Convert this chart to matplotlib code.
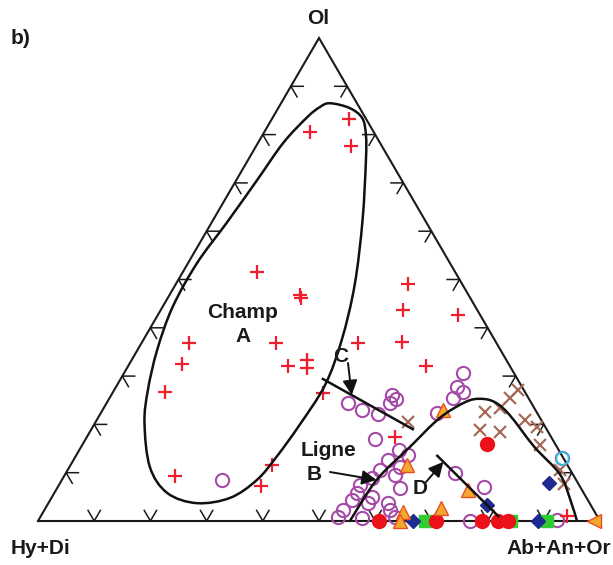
import numpy as np
import matplotlib
matplotlib.use("Agg")
import matplotlib.pyplot as plt
from matplotlib.path import Path
from matplotlib.patches import PathPatch

plt.rcParams['font.family'] = ['Liberation Sans', 'DejaVu Sans']

# Normative compositions (%): Ol and Ab+An+Or; Hy+Di is the remainder to 100
plus_ol = [80.5, 83.2, 77.6, 51.6, 46.8, 46.2, 36.9, 32.5, 26.7, 36.9, 32.1, 33.3, 31.7,
           36.9, 26.5, 9.3, 11.6, 7.2, 49.1, 43.7, 42.6, 37.1, 32.1, 17.4, 1.0]
plus_fsp = [8.1, 13.7, 16.9, 13.2, 23.2, 23.7, 8.5, 9.3, 9.2, 23.9, 28.5, 31.2, 32.1,
            38.5, 37.4, 19.7, 35.8, 36.1, 41.2, 43.1, 53.4, 46.3, 53.0, 54.8, 93.6]

circ_ol = [8.5, 30.6, 27.7, 26.7, 25.5, 22.4, 24.4, 23.0, 22.2, 26.1, 25.3, 24.4, 17.0,
           14.7, 13.7, 12.6, 11.2, 10.6, 9.5, 8.9, 6.8, 7.5, 5.8, 5.0, 4.3, 3.7, 3.7,
           2.3, 2.3, 0.8, 0.6, 0.8, 9.9, 7.0, 0.0, 0.2, 13.0]
circ_fsp = [28.5, 60.3, 60.7, 62.2, 61.1, 59.8, 43.0, 46.2, 49.4, 50.0, 51.1, 50.4, 51.5,
            56.8, 59.0, 56.0, 58.8, 55.6, 58.7, 54.9, 61.0, 53.6, 53.9, 56.9, 53.7, 56.8, 60.4,
            61.5, 53.2, 53.0, 57.4, 63.1, 69.2, 75.9, 76.9, 92.2, 86.7]

cross_ol = [27.1, 25.5, 23.4, 22.6, 20.9, 18.8, 18.4, 19.5, 15.7, 10.6, 7.7, 20.5]
cross_fsp = [71.8, 71.3, 70.5, 68.2, 76.2, 69.2, 73.0, 79.1, 81.4, 87.6, 89.8, 55.5]

dot_ol = [15.9, 0.0, 0.0, 0.0, 0.0, 0.0]
dot_fsp = [71.9, 60.7, 70.8, 79.0, 81.9, 83.6]

diam_ol = [7.9, 3.3, 0.0, 0.0]
diam_fsp = [87.0, 78.2, 66.7, 89.0]

sq_ol = [0.0, 0.0, 0.0]
sq_fsp = [68.9, 84.2, 90.6]

tri_ol = [23.0, 11.6, 6.4, 2.7, 1.9, 0.0]
tri_fsp = [60.6, 59.9, 73.3, 70.4, 64.0, 64.4]

ltri_ol = [0.0]
ltri_fsp = [98.9]

hex_ol = [13.0]
hex_fsp = [86.7]

# Field A outline and lines B, C, D
fieldA_ol = [86.5, 85.5, 83.4, 79.9, 74.7, 62.3, 48.9, 37.5, 28.2, 19.9, 13.3, 8.5, 4.8,
             3.7, 5.8, 11.2, 20.3, 27.1, 35.4, 44.3, 53.4, 61.7, 70.6, 78.3, 83.6, 85.7]
fieldA_fsp = [8.7, 12.7, 16.0, 18.4, 21.0, 26.6, 31.9, 35.3, 37.0, 36.6, 35.8, 34.7, 31.8,
              26.4, 20.1, 14.3, 8.8, 6.0, 3.5, 1.8, 1.6, 2.7, 3.7, 4.5, 6.1, 7.3]

lineB_ol = [0.0, 8.5, 15.3, 21.3, 24.6, 25.3, 24.6, 21.9, 15.3, 9.7, 4.3, 0.0]
lineB_fsp = [55.5, 56.0, 58.5, 60.8, 63.7, 66.0, 69.0, 73.0, 80.7, 88.0, 92.6, 95.9]

lineC_ol = [29.4, 19.0]
lineC_fsp = [36.0, 57.2]

lineD_ol = [13.5, 1.0]
lineD_fsp = [64.3, 81.4]

tick_fracs = [10, 20, 30, 40, 50, 60, 70, 80, 90]


def tern(ol, fsp):
    ol = np.asarray(ol, float) / 100.0
    fsp = np.asarray(fsp, float) / 100.0
    return fsp + ol / 2.0, ol


def smooth_path(x, y, closed):
    pts = np.column_stack([x, y])
    n = len(pts)
    if closed:
        ext = np.vstack([pts[-1], pts, pts[0], pts[1]])
        nseg = n
    else:
        ext = np.vstack([pts[0], pts, pts[-1]])
        nseg = n - 1
    verts = [ext[1]]
    codes = [Path.MOVETO]
    for i in range(1, nseg + 1):
        p0, p1, p2, p3 = ext[i - 1], ext[i], ext[i + 1], ext[i + 2]
        c1 = p1 + (p2 - p0) / 6.0
        c2 = p2 - (p3 - p1) / 6.0
        verts += [c1, c2, p2]
        codes += [Path.CURVE4] * 3
    return Path(verts, codes)


W, H = 613, 565
fig = plt.figure(figsize=(W / 100, H / 100), dpi=100)
ax = fig.add_axes([0, 0, 1, 1])
X0, XS, Y0, YS = 38.0, 562.0, 521.0, 483.0
ax.set_xlim(-X0 / XS, (W - X0) / XS)
ax.set_ylim((Y0 - H) / YS, Y0 / YS)
ax.axis('off')


def pix(px, py):
    return (px - X0) / XS, (Y0 - py) / YS


# triangle frame
ax.plot([0, 1, 0.5, 0], [0, 0, 1, 0], color='#1a1a1a', lw=1.5, zorder=2,
        solid_joinstyle='miter')

# tick chevrons along the three edges
t = 0.022
for f in tick_fracs:
    v = f / 100.0
    # base (Ol = 0)
    bx, by = v, 0.0
    ax.plot([bx - t / 2, bx, bx + t / 2], [by + t, by, by + t], color='#1a1a1a', lw=1.1, zorder=2)
    # left edge (Ab+An+Or = 0)
    lx, ly = v / 2, v
    ax.plot([lx + t, lx, lx + t / 2], [ly, ly, ly - t], color='#1a1a1a', lw=1.1, zorder=2)
    # right edge (Hy+Di = 0)
    rx, ry = 1 - v / 2, v
    ax.plot([rx - t, rx, rx - t / 2], [ry, ry, ry - t], color='#1a1a1a', lw=1.1, zorder=2)

# data symbols
x, y = tern(circ_ol, circ_fsp)
ax.plot(x, y, 'o', ms=9.5, mfc='none', mec='#a64aa8', mew=1.5, zorder=3, clip_on=False)
x, y = tern(plus_ol, plus_fsp)
ax.plot(x, y, '+', ms=10, mec='#f01e2c', mew=1.6, zorder=3, clip_on=False)
x, y = tern(cross_ol, cross_fsp)
ax.plot(x, y, 'x', ms=9, mec='#a86a58', mew=1.6, zorder=3, clip_on=False)
x, y = tern(sq_ol, sq_fsp)
ax.plot(x, y, 's', ms=8, mfc='#30cc30', mec='#30cc30', zorder=4, clip_on=False)
x, y = tern(dot_ol, dot_fsp)
ax.plot(x, y, 'o', ms=10, mfc='#ec1018', mec='#ec1018', zorder=4, clip_on=False)
x, y = tern(diam_ol, diam_fsp)
ax.plot(x, y, 'D', ms=7.5, mfc='#1f2a90', mec='#1f2a90', zorder=4, clip_on=False)
x, y = tern(tri_ol, tri_fsp)
ax.plot(x, y, '^', ms=9.5, mfc='#f5a830', mec='#e85020', mew=1.0, zorder=4, clip_on=False)
x, y = tern(ltri_ol, ltri_fsp)
ax.plot(x, y, '<', ms=9.5, mfc='#f5a830', mec='#e85020', mew=1.0, zorder=4, clip_on=False)
x, y = tern(hex_ol, hex_fsp)
ax.plot(x, y, 'h', ms=10, mfc='none', mec='#22c8e8', mew=1.2, zorder=4, clip_on=False)

# field A and line B
x, y = tern(fieldA_ol, fieldA_fsp)
ax.add_patch(PathPatch(smooth_path(x, y, True), fill=False, ec='#111111', lw=1.8, zorder=5))
bx_, by_ = tern(lineB_ol, lineB_fsp)
ax.add_patch(PathPatch(smooth_path(bx_, by_, False), fill=False, ec='#111111', lw=1.8, zorder=5))
cx_, cy_ = tern(lineC_ol, lineC_fsp)
ax.plot(cx_, cy_, color='#111111', lw=1.8, zorder=5)
dx_, dy_ = tern(lineD_ol, lineD_fsp)
ax.plot(dx_, dy_, color='#111111', lw=1.8, zorder=5)

# arrows pointing to the lines
arrow = dict(arrowstyle='-|>', color='#111111', lw=1.4, mutation_scale=22,
             shrinkA=0, shrinkB=0)
tipC = (cx_[0] + 0.32 * (cx_[1] - cx_[0]), cy_[0] + 0.32 * (cy_[1] - cy_[0]))
ax.annotate('', xy=tipC, xytext=pix(348, 363), arrowprops=arrow, zorder=6)
tipD = (dx_[0] + 0.1 * (dx_[1] - dx_[0]), dy_[0] + 0.1 * (dy_[1] - dy_[0]))
ax.annotate('', xy=tipD, xytext=pix(426, 482), arrowprops=arrow, zorder=6)
ax.annotate('', xy=(bx_[1], by_[1]), xytext=pix(330, 472), arrowprops=arrow, zorder=6)

fs = 15
lbl = dict(fontweight='bold', ha='center', va='center', color='#1a1a1a', zorder=7)
ax.text(*pix(21, 38), 'b)', fontsize=fs, **lbl)
ax.text(*pix(318, 18), 'Ol', fontsize=fs, **lbl)
ax.text(*pix(41, 549), 'Hy+Di', fontsize=fs, **lbl)
ax.text(*pix(559, 549), 'Ab+An+Or', fontsize=fs, **lbl)
ax.text(*pix(243, 312), 'Champ', fontsize=fs, **lbl)
ax.text(*pix(243, 337), 'A', fontsize=fs, **lbl)
ax.text(*pix(329, 450), 'Ligne', fontsize=fs, **lbl)
ax.text(*pix(314, 474), 'B', fontsize=fs, **lbl)
ax.text(*pix(341, 356), 'C', fontsize=fs, **lbl)
ax.text(*pix(420, 488), 'D', fontsize=fs, **lbl)

fig.savefig('out.png', dpi=100, facecolor='white')
